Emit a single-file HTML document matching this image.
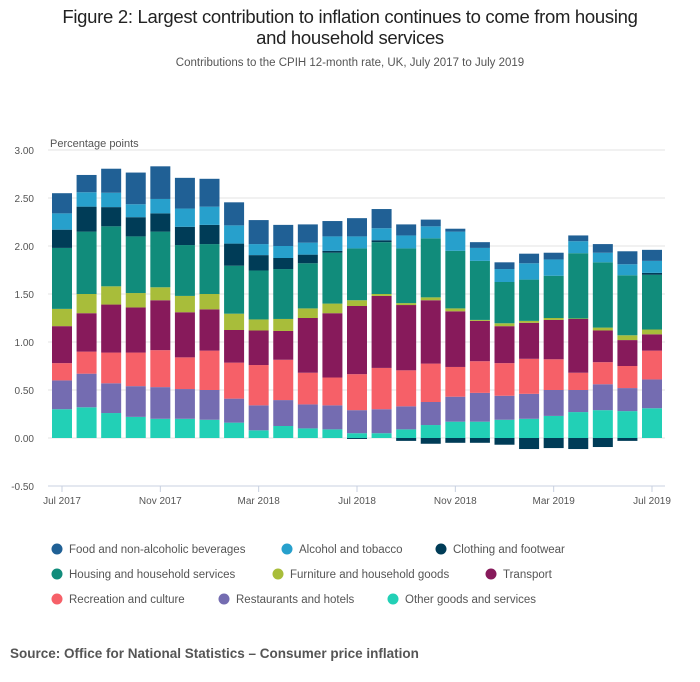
<!DOCTYPE html>
<html><head><meta charset="utf-8">
<style>
body{margin:0;background:#fff;font-family:"Liberation Sans",sans-serif;}
#wrap{position:relative;width:700px;height:682px;overflow:hidden;}
.t{position:absolute;left:0;width:700px;text-align:center;color:#222;}
</style></head><body>
<div id="wrap">
<div class="t" style="top:6px;font-size:18.5px;line-height:21px;letter-spacing:-0.3px;">Figure 2: Largest contribution to inflation continues to come from housing<br>and household services</div>
<div class="t" style="top:57px;font-size:11.5px;color:#555;">Contributions to the CPIH 12-month rate, UK, July 2017 to July 2019</div>
<svg id="chart" width="700" height="682" style="position:absolute;left:0;top:0"></svg>
<div style="position:absolute;left:10px;top:646px;font-size:13.5px;font-weight:bold;color:#555;">Source: Office for National Statistics – Consumer price inflation</div>
</div>
<script>
const months = ["Jul 2017","Aug 2017","Sep 2017","Oct 2017","Nov 2017","Dec 2017","Jan 2018","Feb 2018","Mar 2018","Apr 2018","May 2018","Jun 2018","Jul 2018","Aug 2018","Sep 2018","Oct 2018","Nov 2018","Dec 2018","Jan 2019","Feb 2019","Mar 2019","Apr 2019","May 2019","Jun 2019","Jul 2019"];
const seriesNames = ["Other goods and services","Restaurants and hotels","Recreation and culture","Transport","Furniture and household goods","Housing and household services","Clothing and footwear","Alcohol and tobacco","Food and non-alcoholic beverages"];
const other = [0.30,0.32,0.26,0.22,0.20,0.20,0.19,0.16,0.08,0.125,0.10,0.09,0.05,0.05,0.09,0.135,0.17,0.17,0.19,0.20,0.23,0.27,0.29,0.28,0.31];
const restaurants = [0.30,0.35,0.31,0.32,0.33,0.31,0.31,0.25,0.26,0.27,0.25,0.25,0.24,0.25,0.24,0.24,0.26,0.30,0.25,0.26,0.27,0.23,0.27,0.24,0.30];
const recreation = [0.18,0.23,0.32,0.35,0.385,0.33,0.41,0.375,0.42,0.42,0.33,0.29,0.375,0.43,0.375,0.40,0.31,0.33,0.34,0.365,0.32,0.18,0.23,0.23,0.30];
const transport = [0.385,0.40,0.50,0.47,0.52,0.47,0.43,0.34,0.36,0.30,0.57,0.67,0.71,0.75,0.68,0.66,0.58,0.42,0.385,0.375,0.41,0.56,0.33,0.27,0.17];
const furniture = [0.18,0.20,0.19,0.15,0.135,0.17,0.16,0.17,0.115,0.125,0.10,0.10,0.06,0.02,0.02,0.03,0.03,0.01,0.03,0.02,0.02,0.005,0.03,0.05,0.05];
const housing = [0.635,0.65,0.625,0.59,0.58,0.53,0.52,0.50,0.51,0.52,0.47,0.53,0.54,0.54,0.57,0.615,0.60,0.615,0.43,0.43,0.44,0.68,0.68,0.625,0.57];
const clothing = [0.19,0.26,0.20,0.20,0.19,0.19,0.20,0.23,0.16,0.115,0.09,0.02,-0.01,0.02,-0.03,-0.06,-0.05,-0.05,-0.07,-0.115,-0.105,-0.115,-0.094,-0.03,0.02];
const alcohol = [0.17,0.15,0.15,0.135,0.15,0.19,0.19,0.19,0.115,0.125,0.125,0.15,0.125,0.125,0.135,0.125,0.20,0.135,0.135,0.17,0.17,0.125,0.10,0.115,0.125];
const food = [0.21,0.18,0.25,0.33,0.34,0.32,0.29,0.24,0.25,0.22,0.19,0.16,0.19,0.20,0.115,0.07,0.03,0.06,0.07,0.10,0.07,0.06,0.09,0.135,0.115];
const yTicks = [3.00,2.50,2.00,1.50,1.00,0.50,0.00,-0.50];
const xTickLabels = ["Jul 2017","Nov 2017","Mar 2018","Jul 2018","Nov 2018","Mar 2019","Jul 2019"];
const xTickIndex = [0,4,8,12,16,20,24];

const colors = ["#22d0b6","#746cb1","#f66068","#871a5b","#a8bd3a","#118c7b","#003c57","#27a0cc","#206095"];
const series = [other,restaurants,recreation,transport,furniture,housing,clothing,alcohol,food];
const NS="http://www.w3.org/2000/svg";
const svg=document.getElementById('chart');
const y0=438, pxPerUnit=96;
function yScale(v){return y0 - v*pxPerUnit;}
function xScale(i){return 62 + i*(590/(months.length-1));}
function mk(tag,attrs,parent){const e=document.createElementNS(NS,tag);for(const k in attrs)e.setAttribute(k,attrs[k]);(parent||svg).appendChild(e);return e;}

yTicks.forEach(v=>{
  const g=mk('line',{x1:48,x2:665,y1:yScale(v),y2:yScale(v),stroke:v===-0.5?'#c8d0e0':'#e3e3e3','stroke-width':1});
  
  
  const t=mk('text',{x:34,y:yScale(v)+4,'text-anchor':'end','font-size':10,fill:'#555','font-family':'Liberation Sans, sans-serif'});
  t.textContent=v.toFixed(2);
  
  
});
const yt=mk('text',{x:50,y:147,'font-size':11,fill:'#555','font-family':'Liberation Sans, sans-serif'});
yt.textContent='Percentage points';



months.forEach((m,i)=>{
  let pos=0,neg=0;
  series.forEach((s,k)=>{
    const v=s[i];
    let top,h;
    if(v>=0){top=yScale(pos+v);h=v*pxPerUnit;pos+=v;}
    else{top=yScale(neg);h=-v*pxPerUnit;neg+=v;}
    const r=mk('rect',{x:xScale(i)-10,y:top,width:20,height:h,fill:colors[k]});
    
    
  });
});

xTickIndex.forEach((idx,j)=>{
  const x=xScale(idx);
  const l=mk('line',{x1:x,x2:x,y1:486,y2:492,stroke:'#c8d0e0'});
  
  
  const t=mk('text',{x:x,y:504,'text-anchor':'middle','font-size':10,fill:'#555','font-family':'Liberation Sans, sans-serif'});
  t.textContent=xTickLabels[j];
  
  
});

const legend=[["Food and non-alcoholic beverages",8,57,549],["Alcohol and tobacco",7,287,549],["Clothing and footwear",6,441,549],
["Housing and household services",5,57,574],["Furniture and household goods",4,278,574],["Transport",3,491,574],
["Recreation and culture",2,57,599],["Restaurants and hotels",1,224,599],["Other goods and services",0,393,599]];
legend.forEach(e=>{
  const g=mk('g',{});
  
  
  mk('circle',{cx:e[2],cy:e[3],r:5.5,fill:colors[e[1]]},g);
  const t=mk('text',{x:e[2]+12,y:e[3]+4,'font-size':11.5,fill:'#555','font-family':'Liberation Sans, sans-serif'},g);
  t.textContent=e[0];
});
</script>
</body></html>
